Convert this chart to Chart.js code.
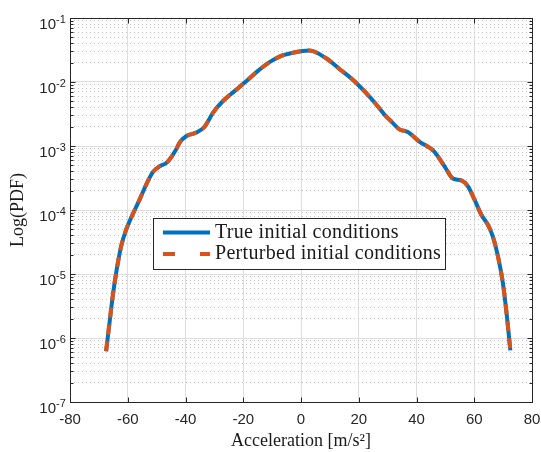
<!DOCTYPE html>
<html>
<head>
<meta charset="utf-8">
<title>Log(PDF)</title>
<script src="https://cdn.jsdelivr.net/npm/chart.js@4.4.1/dist/chart.umd.min.js"></script>
<style>
  html, body { margin: 0; padding: 0; background: #ffffff; }
  #wrap { width: 541px; height: 452px; }
</style>
</head>
<body>
<div id="wrap"><canvas id="chart_pdf" width="541" height="452"></canvas></div>
<script>
// acceleration samples [m/s^2]
var accel = [-67.5, -66.3, -65.2, -64.0, -62.3, -60.5, -58.8, -55.9, -53.6, -51.3,
  -49.0, -46.5, -43.2, -42.1, -39.8, -36.3, -33.4, -30.5, -27.1, -23.0,
  -19.6, -15.0, -10.9, -7.4, -2.8, 2.9, 8.7, 13.3, 18.5, 22.6,
  26.0, 28.9, 31.2, 34.1, 37.0, 41.0, 46.0, 49.7, 52.6, 55.5,
  57.8, 60.1, 62.4, 64.7, 66.4, 68.2, 69.9, 71.3, 72.5];

var pdfTrue = [6.2e-7, 1.75e-6, 4.5e-6, 1.05e-5, 2.7e-5, 5.0e-5, 7.6e-5, 1.45e-4, 2.5e-4, 3.9e-4,
  4.8e-4, 5.5e-4, 8.9e-4, 1.12e-3, 1.42e-3, 1.62e-3, 2.0e-3, 3.3e-3, 5.0e-3, 7.2e-3,
  9.7e-3, 1.48e-2, 2.04e-2, 2.5e-2, 2.86e-2, 3.1e-2, 2.35e-2, 1.6e-2, 1.03e-2, 6.7e-3,
  4.5e-3, 3.1e-3, 2.44e-3, 1.82e-3, 1.65e-3, 1.17e-3, 8.3e-4, 4.8e-4, 3.1e-4, 2.9e-4,
  2.35e-4, 1.45e-4, 8.5e-5, 5.9e-5, 3.9e-5, 1.9e-5, 7.3e-6, 2.2e-6, 6.4e-7];

var pdfPerturbed = [6.2e-7, 1.75e-6, 4.5e-6, 1.05e-5, 2.7e-5, 5.0e-5, 7.6e-5, 1.45e-4, 2.5e-4, 3.9e-4,
  4.8e-4, 5.5e-4, 8.9e-4, 1.12e-3, 1.42e-3, 1.62e-3, 2.0e-3, 3.3e-3, 5.0e-3, 7.2e-3,
  9.7e-3, 1.48e-2, 2.04e-2, 2.5e-2, 2.86e-2, 3.1e-2, 2.35e-2, 1.6e-2, 1.03e-2, 6.7e-3,
  4.5e-3, 3.1e-3, 2.44e-3, 1.82e-3, 1.65e-3, 1.17e-3, 8.3e-4, 4.8e-4, 3.1e-4, 2.9e-4,
  2.35e-4, 1.45e-4, 8.5e-5, 5.9e-5, 3.9e-5, 1.9e-5, 7.3e-6, 2.2e-6, 6.4e-7];

var seriesLabels = ["True initial conditions", "Perturbed initial conditions"];
var seriesColors = ["#0072BD", "#D95319"];

var xTicks = [-80, -60, -40, -20, 0, 20, 40, 60, 80];
var yDecades = [1e-7, 1e-6, 1e-5, 1e-4, 1e-3, 1e-2, 1e-1];
var yExponents = ["-7", "-6", "-5", "-4", "-3", "-2", "-1"];

var axisColor = "#262626";
var sansFont = "'Liberation Sans', Arial, Helvetica, sans-serif";
var serifFont = "'Liberation Serif', 'Times New Roman', serif";

function toPoints(xs, ys) {
  var pts = [];
  for (var i = 0; i < xs.length; i++) {
    pts.push({ x: xs[i], y: ys[i] });
  }
  return pts;
}

function minorTicks() {
  var out = [];
  for (var i = 0; i < yDecades.length - 1; i++) {
    for (var k = 2; k <= 9; k++) {
      out.push({ value: yDecades[i] * k });
    }
  }
  return out;
}

// box, inward ticks, 10^n labels and the legend, MATLAB style
var matlabAxes = {
  id: 'matlabAxes',
  afterDatasetsDraw: function (chart) {
    var ctx = chart.ctx;
    var a = chart.chartArea;
    var xs = chart.scales.x, ys = chart.scales.y;
    var L = a.left + 0.5, R = a.right + 0.5, T = a.top + 0.5, B = a.bottom + 0.5;

    ctx.save();
    ctx.strokeStyle = axisColor;
    ctx.lineWidth = 1;
    ctx.beginPath();
    for (var i = 0; i < xTicks.length; i++) {
      var px = Math.round(xs.getPixelForValue(xTicks[i])) + 0.5;
      ctx.moveTo(px, B); ctx.lineTo(px, B - 5);
      ctx.moveTo(px, T); ctx.lineTo(px, T + 5);
    }
    for (var j = 0; j < yDecades.length; j++) {
      var py = Math.round(ys.getPixelForValue(yDecades[j])) + 0.5;
      ctx.moveTo(L, py); ctx.lineTo(L + 5, py);
      ctx.moveTo(R, py); ctx.lineTo(R - 5, py);
    }
    var mt = minorTicks();
    for (var m = 0; m < mt.length; m++) {
      var pm = Math.round(ys.getPixelForValue(mt[m].value)) + 0.5;
      ctx.moveTo(L, pm); ctx.lineTo(L + 3, pm);
      ctx.moveTo(R, pm); ctx.lineTo(R - 3, pm);
    }
    ctx.stroke();
    ctx.strokeRect(L, T, R - L, B - T);

    // y tick labels 10^n
    ctx.fillStyle = axisColor;
    for (var n = 0; n < yDecades.length; n++) {
      var ty = ys.getPixelForValue(yDecades[n]);
      ctx.font = "15px " + sansFont;
      ctx.textAlign = "right";
      ctx.textBaseline = "alphabetic";
      ctx.fillText("10", 56, ty + 11);
      ctx.font = "11px " + sansFont;
      ctx.textAlign = "left";
      ctx.fillText(yExponents[n], 56, ty + 4.5);
    }

    // legend
    var bx = 153.5, by = 218.5, bw = 292, bh = 51;
    ctx.fillStyle = "#ffffff";
    ctx.fillRect(bx, by, bw, bh);
    ctx.strokeStyle = axisColor;
    ctx.lineWidth = 1;
    ctx.strokeRect(bx, by, bw, bh);
    var ds = chart.data.datasets;
    var rows = [232.5, 254];
    for (var d = 0; d < ds.length; d++) {
      ctx.strokeStyle = ds[d].borderColor;
      ctx.lineWidth = 4;
      ctx.setLineDash(ds[d].borderDash ? [12, 25] : []);
      ctx.beginPath();
      ctx.moveTo(163, rows[d]);
      ctx.lineTo(210, rows[d]);
      ctx.stroke();
      ctx.setLineDash([]);
      ctx.fillStyle = "#1a1a1a";
      ctx.font = "20px " + serifFont;
      ctx.letterSpacing = "0.3px";
      ctx.textAlign = "left";
      ctx.textBaseline = "alphabetic";
      ctx.fillText(ds[d].label, 215, rows[d] + 5);
    }
    ctx.restore();
  }
};

function createPdfChart() {
  new Chart(document.getElementById("chart_pdf"), {
    type: 'line',
    data: {
      datasets: [{
        label: seriesLabels[0],
        data: toPoints(accel, pdfTrue),
        borderColor: seriesColors[0],
        borderWidth: 4,
        pointRadius: 0,
        fill: false,
        cubicInterpolationMode: 'monotone',
        order: 2
      }, {
        label: seriesLabels[1],
        data: toPoints(accel, pdfPerturbed),
        borderColor: seriesColors[1],
        borderWidth: 4,
        borderDash: [10, 7],
        pointRadius: 0,
        fill: false,
        cubicInterpolationMode: 'monotone',
        order: 1
      }]
    },
    options: {
      responsive: false,
      animation: false,
      layout: { padding: { top: 18, right: 9, left: 0, bottom: 0 } },
      plugins: {
        legend: { display: false },
        tooltip: { enabled: false }
      },
      scales: {
        x: {
          type: 'linear',
          min: -80,
          max: 80,
          afterBuildTicks: function (s) { s.ticks = xTicks.map(function (v) { return { value: v }; }); },
          afterFit: function (s) {
            s.height = 50;
            s.paddingLeft = 0;
            s.paddingRight = 0;
          },
          grid: { color: '#dedede', lineWidth: 1, drawTicks: false },
          border: { display: false },
          ticks: {
            padding: 9,
            color: axisColor,
            autoSkip: false,
            maxRotation: 0,
            font: { family: sansFont, size: 15 }
          },
          title: {
            display: true,
            text: 'Acceleration [m/s²]',
            color: '#1a1a1a',
            font: { family: serifFont, size: 18 },
            padding: 0
          }
        },
        y: {
          type: 'logarithmic',
          min: 1e-7,
          max: 1e-1,
          afterBuildTicks: function (s) { s.ticks = yDecades.map(function (v) { return { value: v }; }); },
          afterFit: function (s) { s.width = 70; },
          grid: { color: '#dedede', lineWidth: 1, drawTicks: false },
          border: { display: false },
          ticks: { display: false },
          title: {
            display: true,
            text: 'Log(PDF)',
            color: '#1a1a1a',
            font: { family: serifFont, size: 18 },
            padding: { top: 7, bottom: 0 }
          }
        },
        yMinor: {
          type: 'logarithmic',
          position: 'left',
          min: 1e-7,
          max: 1e-1,
          afterBuildTicks: function (s) { s.ticks = minorTicks(); },
          afterFit: function (s) { s.width = 0; },
          grid: { color: '#c4c4c4', lineWidth: 1, drawTicks: false },
          border: { display: false, dash: [1, 3] },
          ticks: { display: false }
        }
      }
    },
    plugins: [matlabAxes]
  });
}

createPdfChart();
</script>
</body>
</html>
